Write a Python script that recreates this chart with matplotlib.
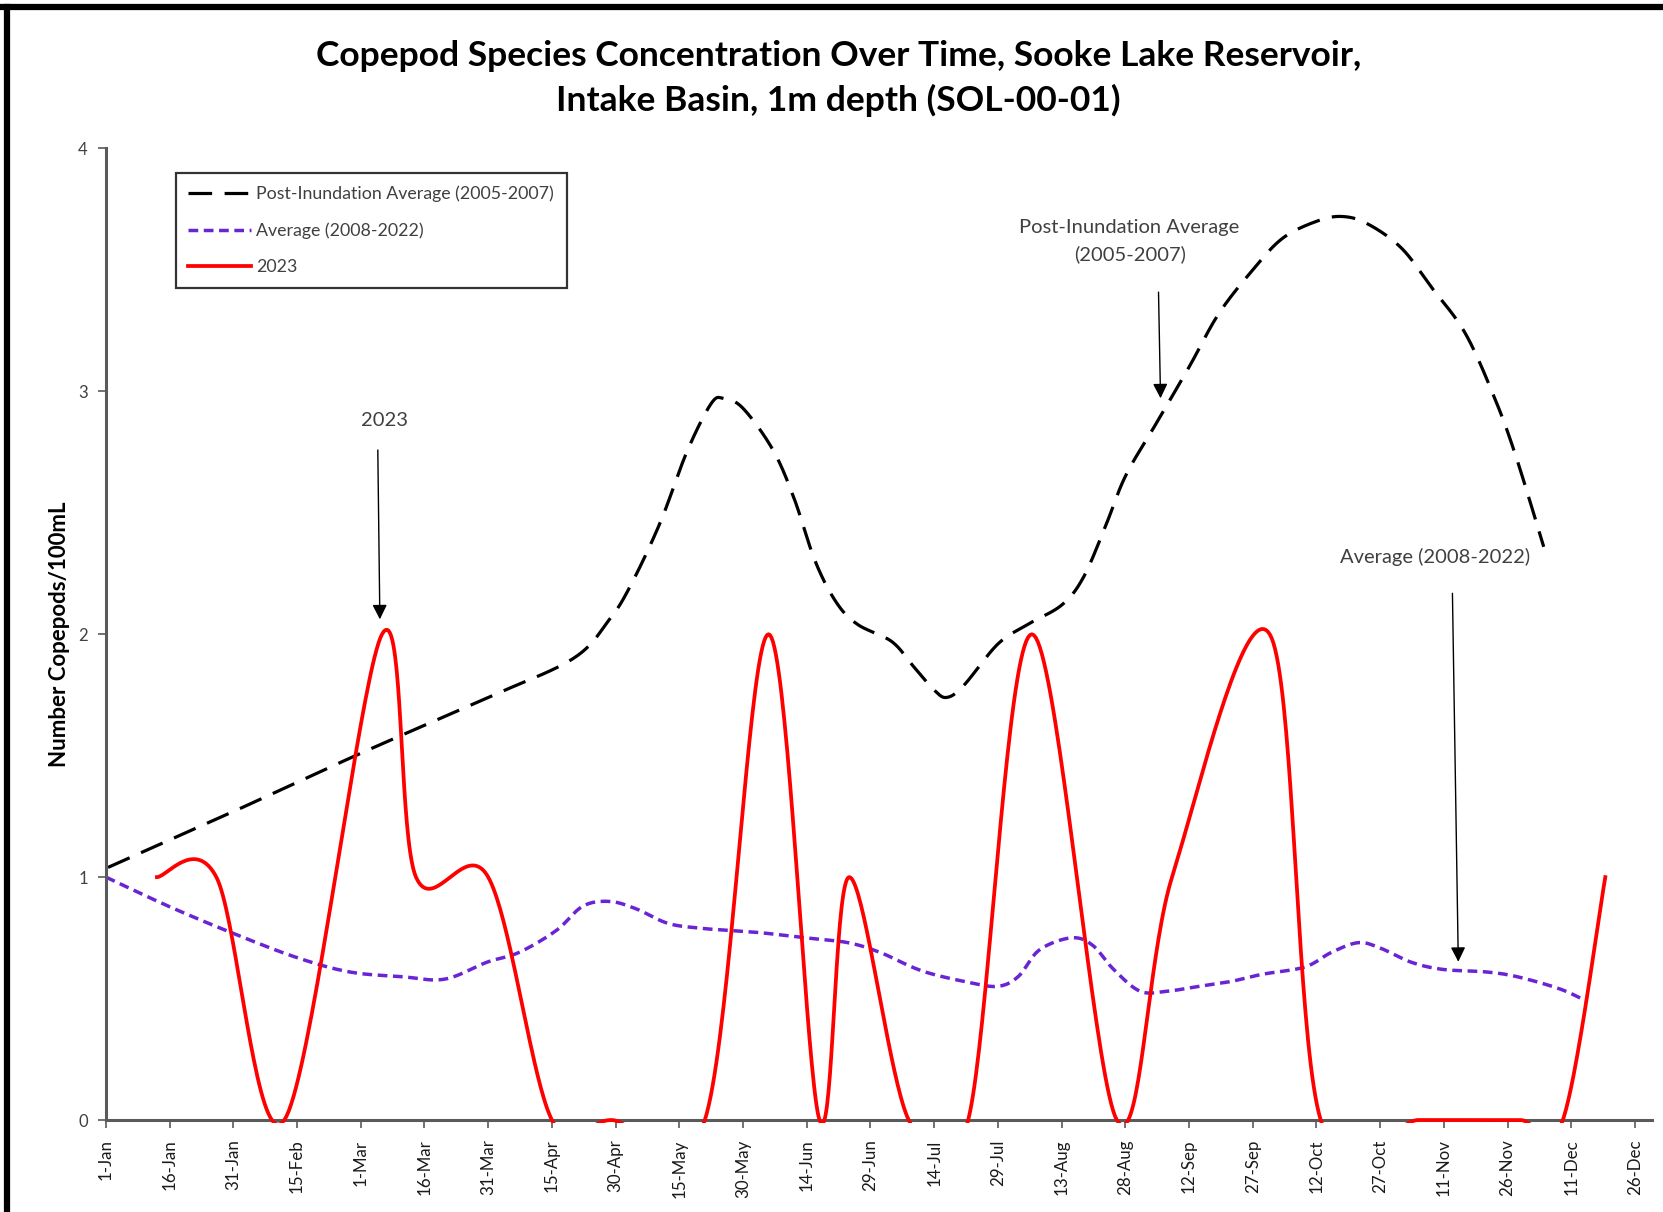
import matplotlib
matplotlib.use("Agg")
import matplotlib.pyplot as plt
import numpy as np
from matplotlib.lines import Line2D
from matplotlib.patches import Rectangle

plt.rcParams['font.family'] = ['Lato', 'DejaVu Sans']
plt.rcParams['lines.scale_dashes'] = False

# ---------------- data (day offset from 1-Jan, value) ----------------
tick_labels = ["1-Jan", "16-Jan", "31-Jan", "15-Feb", "1-Mar", "16-Mar", "31-Mar",
               "15-Apr", "30-Apr", "15-May", "30-May", "14-Jun", "29-Jun", "14-Jul",
               "29-Jul", "13-Aug", "28-Aug", "12-Sep", "27-Sep", "12-Oct", "27-Oct",
               "11-Nov", "26-Nov", "11-Dec", "26-Dec"]

post_days = [0.5, 30, 60, 90, 110, 118.5, 123.5, 130.5, 136.75, 142.5, 145.5, 150, 157,
             162, 167, 172, 177, 185, 190, 195, 198, 202, 210, 217, 225, 230, 235, 240,
             247, 255, 262, 270, 277, 285, 291, 297, 305, 312, 320, 327, 332, 338.5]
post_vals = [1.04, 1.27, 1.51, 1.74, 1.90, 2.06, 2.20, 2.46, 2.75, 2.95, 2.97, 2.93,
             2.76, 2.56, 2.30, 2.13, 2.04, 1.97, 1.87, 1.77, 1.74, 1.79, 1.96, 2.04,
             2.12, 2.23, 2.43, 2.65, 2.86, 3.10, 3.32, 3.50, 3.63, 3.70, 3.72, 3.69,
             3.59, 3.43, 3.24, 2.97, 2.73, 2.36]

avg_days = [0, 14.75, 29.75, 44.75, 57.25, 69.75, 79.75, 89.75, 97.25, 106, 112.25,
            118.5, 124.75, 132.25, 139.75, 147.25, 154.75, 164.75, 174.75, 182.25,
            189.75, 194.75, 202.25, 209.75, 214.75, 219.75, 227.25, 232.25, 237.25,
            243.5, 249.75, 257.25, 264.75, 272.25, 282.25, 288.5, 294.75, 299.75,
            307.25, 314.75, 324.75, 332.25, 342.25, 348.5]
avg_vals = [1.00, 0.88, 0.77, 0.67, 0.61, 0.59, 0.58, 0.65, 0.69, 0.78, 0.88, 0.90,
            0.87, 0.81, 0.79, 0.78, 0.77, 0.75, 0.73, 0.69, 0.63, 0.60, 0.57, 0.55,
            0.59, 0.70, 0.75, 0.72, 0.62, 0.53, 0.53, 0.55, 0.57, 0.60, 0.63, 0.69,
            0.73, 0.71, 0.65, 0.62, 0.61, 0.59, 0.54, 0.49]

y2023_days = [12, 26, 42, 65, 73, 90, 105, 119, 141, 156, 168, 175, 189, 203, 218,
              238, 251, 274, 286, 309, 321, 333, 343, 353]
y2023_vals = [1, 1, 0, 2, 1, 1, 0, 0, 0, 2, 0, 1, 0, 0, 2, 0, 1, 2, 0, 0, 0, 0, 0, 1]


def smooth(xs, ys, n=40):
    """Excel-style smoothed line: cubic Bezier through every point."""
    P = np.column_stack([xs, ys]).astype(float)
    out = []
    m = len(P)
    t = np.linspace(0, 1, n)[:, None]
    for i in range(m - 1):
        p0 = P[i]
        p3 = P[i + 1]
        pm = P[i - 1] if i > 0 else P[i]
        pp = P[i + 2] if i + 2 < m else P[i + 1]
        c1 = p0 + (p3 - pm) / 6.0
        c2 = p3 - (pp - p0) / 6.0
        seg = ((1 - t) ** 3) * p0 + 3 * ((1 - t) ** 2) * t * c1 + 3 * (1 - t) * t ** 2 * c2 + t ** 3 * p3
        out.append(seg if i == 0 else seg[1:])
    out = np.vstack(out)
    return out[:, 0], out[:, 1]


fig = plt.figure(figsize=(16.63, 12.12), dpi=100)
ax = fig.add_axes([0.0637, 0.0759, 0.9297, 0.8016])

axis_col = '#5a5a5a'

px, py = smooth(post_days, post_vals)
l1, = ax.plot(px, py, color='black', lw=2.3, label='Post-Inundation Average (2005-2007)')
l1.set_dashes((17, 9))
ax_, ay_ = smooth(avg_days, avg_vals)
l2, = ax.plot(ax_, ay_, color='#6a24d4', lw=2.5, label='Average (2008-2022)')
l2.set_dashes((7, 4))
rx, ry = smooth(y2023_days, y2023_vals)
l3, = ax.plot(rx, ry, color='#ff0000', lw=2.7, label='2023', zorder=3)

ax.set_xlim(0, 364)
ax.set_ylim(0, 4)
# let the 2023 line sit fully on the x-axis where it is zero
clip = Rectangle((0, -0.012), 364, 4.1, transform=ax.transData)
l3.set_clip_path(clip)

ax.set_xticks(np.arange(0, 15 * len(tick_labels), 15))
ax.set_xticklabels(tick_labels, rotation=90, fontsize=12.2, color='#1a1a1a')
ax.set_yticks([0, 1, 2, 3, 4])
ax.set_yticklabels(['0', '1', '2', '3', '4'], fontsize=12, color='#404040')
ax.tick_params(axis='x', direction='out', length=6, width=1.2, color=axis_col, pad=8)
ax.tick_params(axis='y', direction='out', length=6, width=1.2, color=axis_col, pad=7)
for s in ['top', 'right']:
    ax.spines[s].set_visible(False)
for s in ['left', 'bottom']:
    ax.spines[s].set_color(axis_col)
    ax.spines[s].set_linewidth(2.2)

ax.set_ylabel('Number Copepods/100mL', fontsize=16, fontweight='bold', labelpad=6)

leg = ax.legend(handles=[l1, l2, l3], loc='upper left', bbox_to_anchor=(0.045, 0.975),
                fontsize=12.8, frameon=True, fancybox=False, edgecolor='black',
                handlelength=3.55, handletextpad=0.3, borderpad=0.7, labelspacing=1.15,
                borderaxespad=0)
leg.get_frame().set_linewidth(1.6)
for t in leg.get_texts():
    t.set_color('#404040')

ann_col = '#404040'
ax.text(65.5, 2.88, '2023', ha='center', va='center', fontsize=14.5, color=ann_col)
ax.annotate('', xy=(64.5, 2.05), xytext=(64.0, 2.77),
            arrowprops=dict(arrowstyle='-|>', color='black', lw=1.0, mutation_scale=22))
ax.text(241, 3.62, 'Post-Inundation Average\n(2005-2007)', ha='center', va='center',
        fontsize=14.5, color=ann_col, linespacing=1.6)
ax.annotate('', xy=(248.3, 2.96), xytext=(247.8, 3.42),
            arrowprops=dict(arrowstyle='-|>', color='black', lw=1.0, mutation_scale=22))
ax.text(313, 2.32, 'Average (2008-2022)', ha='center', va='center', fontsize=14.5, color=ann_col)
ax.annotate('', xy=(318.4, 0.64), xytext=(317.0, 2.18),
            arrowprops=dict(arrowstyle='-|>', color='black', lw=1.0, mutation_scale=22))

fig.text(0.504, 0.935,
         'Copepod Species Concentration Over Time, Sooke Lake Reservoir,\nIntake Basin, 1m depth (SOL-00-01)',
         ha='center', va='center', fontsize=25.5, fontweight='bold', linespacing=1.45)

# outer chart border (top and left edges visible)
fig.add_artist(Line2D([0, 1], [1 - 7 / 1212, 1 - 7 / 1212], transform=fig.transFigure,
                      color='black', lw=4.5))
fig.add_artist(Line2D([7 / 1663, 7 / 1663], [0, 1 - 7 / 1212], transform=fig.transFigure,
                      color='black', lw=4.5))

fig.savefig('out.png', dpi=100)
